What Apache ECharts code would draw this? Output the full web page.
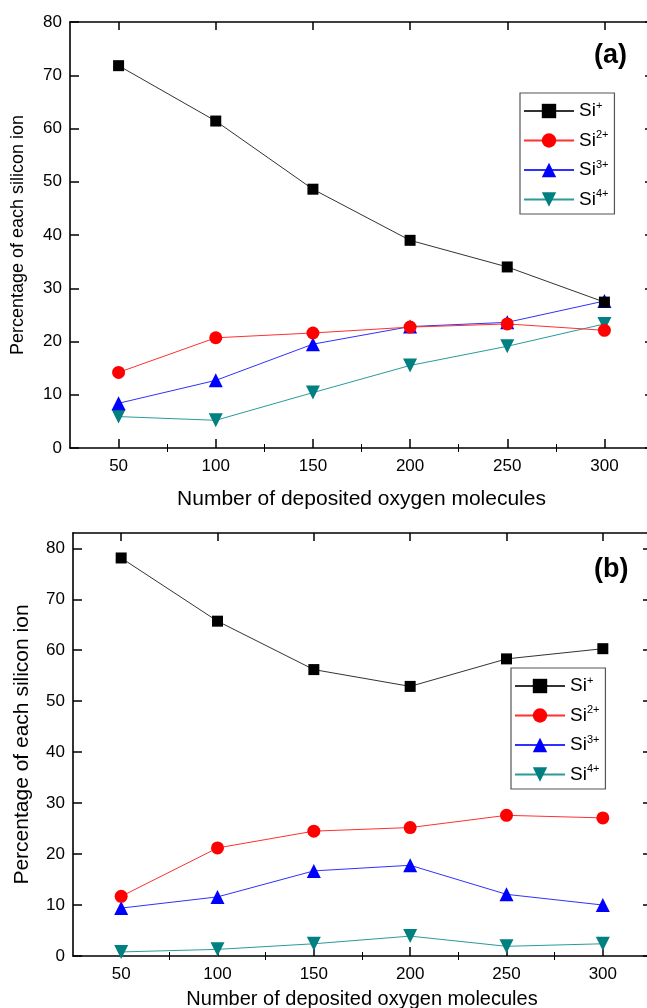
<!DOCTYPE html>
<html>
<head>
<meta charset="utf-8">
<script src="https://cdn.jsdelivr.net/npm/echarts@6/dist/echarts.min.js"></script>
<style>
  html, body { margin: 0; padding: 0; background: #fff; }
  #chart { width: 647px; height: 1008px; }
</style>
</head>
<body>
<div id="chart"></div>
<script>
// number of deposited O2 molecules
const oxygenCount = [50, 100, 150, 200, 250, 300];

// panel (a)
const siPlusA = [71.8, 61.4, 48.6, 39.0, 34.0, 27.4];
const si2PlusA = [14.2, 20.7, 21.6, 22.7, 23.3, 22.1];
const si3PlusA = [8.4, 12.7, 19.5, 22.8, 23.6, 27.6];
const si4PlusA = [5.9, 5.2, 10.4, 15.5, 19.1, 23.3];

// panel (b)
const siPlusB = [78.1, 65.7, 56.2, 52.9, 58.3, 60.3];
const si2PlusB = [11.7, 21.2, 24.5, 25.2, 27.6, 27.1];
const si3PlusB = [9.4, 11.6, 16.7, 17.8, 12.1, 10.0];
const si4PlusB = [0.8, 1.3, 2.4, 3.9, 1.9, 2.4];

const majorX = [50, 100, 150, 200, 250, 300];
const minorX = [75, 125, 175, 225, 275];
const yTicks = [0, 10, 20, 30, 40, 50, 60, 70, 80];
const ionNames = ['Si+', 'Si2+', 'Si3+', 'Si4+'];

const colors = ['#000000', '#ff0000', '#0000ff', '#008080'];
const lineColors = ['#333333', '#ff3030', '#3030ff', '#2a9a9a'];
const symbols = ['rect', 'circle', 'triangle', 'path://M0,0 L10,0 L5,9 Z'];
const symbolSizes = [11, 13, 14, 14];

const chart = echarts.init(document.getElementById('chart'));

function pairs(ys) {
  return oxygenCount.map((x, i) => [x, ys[i]]);
}

const axisLine = { show: true, onZero: false, lineStyle: { color: '#000', width: 1.6 } };

function xAxes(grid, nameGap, nameSize) {
  return [
    {
      type: 'value', gridIndex: grid, position: 'bottom', min: 25, max: 325,
      axisLine: axisLine,
      axisTick: { inside: true, length: 9, customValues: majorX, lineStyle: { color: '#000', width: 1.5 } },
      axisLabel: { customValues: majorX, fontSize: 17, color: '#000', margin: 10, fontFamily: 'Liberation Sans' },
      splitLine: { show: false },
      name: 'Number of deposited oxygen molecules', nameLocation: 'middle', nameGap: nameGap,
      nameTextStyle: { fontSize: nameSize, color: '#000', fontFamily: 'Liberation Sans' }
    },
    {
      type: 'value', gridIndex: grid, position: 'bottom', min: 25, max: 325,
      axisLine: { show: false },
      axisTick: { inside: true, length: 4, customValues: minorX, lineStyle: { color: '#000', width: 1 } },
      axisLabel: { show: false }, splitLine: { show: false }
    },
    {
      type: 'value', gridIndex: grid, position: 'top', min: 25, max: 325,
      axisLine: axisLine,
      axisTick: { inside: true, length: 8, customValues: majorX, lineStyle: { color: '#000', width: 1.5 } },
      axisLabel: { show: false }, splitLine: { show: false }
    },
    {
      type: 'value', gridIndex: grid, position: 'top', min: 25, max: 325,
      axisLine: { show: false },
      axisTick: { inside: true, length: 4, customValues: minorX, lineStyle: { color: '#000', width: 1 } },
      axisLabel: { show: false }, splitLine: { show: false }
    }
  ];
}

function yAxes(grid, max, nameGap, nameSize) {
  return [
    {
      type: 'value', gridIndex: grid, position: 'left', min: 0, max: max,
      axisLine: axisLine,
      axisTick: { inside: true, length: 9, customValues: yTicks, lineStyle: { color: '#000', width: 1.5 } },
      axisLabel: { customValues: yTicks, fontSize: 17, color: '#000', margin: 8, fontFamily: 'Liberation Sans' },
      splitLine: { show: false },
      name: 'Percentage of each silicon ion', nameLocation: 'middle', nameGap: nameGap,
      nameTextStyle: { fontSize: nameSize, color: '#000', fontFamily: 'Liberation Sans' }
    },
    {
      type: 'value', gridIndex: grid, position: 'right', min: 0, max: max,
      axisLine: axisLine,
      axisTick: { inside: true, length: 8, customValues: yTicks, lineStyle: { color: '#000', width: 1.5 } },
      axisLabel: { show: false }, splitLine: { show: false }
    }
  ];
}

function panelSeries(values, xIdx, yIdx) {
  return values.map((ys, k) => ({
    name: ionNames[k],
    type: 'line',
    xAxisIndex: xIdx,
    yAxisIndex: yIdx,
    data: pairs(ys),
    symbol: symbols[k],
    symbolSize: symbolSizes[k],
    itemStyle: { color: colors[k] },
    lineStyle: { color: lineColors[k], width: 1 },
    z: 10 - k
  }));
}

function legendFor(left, top) {
  return {
    orient: 'vertical', left: left, top: top,
    data: ionNames,
    itemWidth: 50, itemHeight: 18, itemGap: 9,
    padding: [7, 6, 5, 3],
    borderColor: '#555', borderWidth: 1.2,
    selectedMode: false,
    formatter: name => '{b|Si}{s|' + name.slice(2) + '}',
    textStyle: {
      rich: {
        b: { fontSize: 19, lineHeight: 22, color: '#000', fontFamily: 'Liberation Sans' },
        s: { fontSize: 11, lineHeight: 13, verticalAlign: 'top', color: '#000', fontFamily: 'Liberation Sans' }
      }
    }
  };
}

const option = {
  animation: false,
  backgroundColor: '#fff',
  grid: [
    { left: 70, top: 22, width: 583, height: 426, outerBoundsMode: 'none' },
    { left: 73, top: 533, width: 578, height: 423, outerBoundsMode: 'none' }
  ],
  xAxis: [].concat(xAxes(0, 41, 21), xAxes(1, 33, 20)),
  yAxis: [].concat(yAxes(0, 80, 43, 18), yAxes(1, 83, 40, 21)),
  legend: [legendFor(520, 93), legendFor(511, 668)],
  graphic: [
    { type: 'text', left: 594, top: 42, style: { text: '(a)', font: 'bold 27px Liberation Sans', fill: '#000' } },
    { type: 'text', left: 594, top: 556, style: { text: '(b)', font: 'bold 27px Liberation Sans', fill: '#000' } }
  ],
  series: [].concat(
    panelSeries([siPlusA, si2PlusA, si3PlusA, si4PlusA], 0, 0),
    panelSeries([siPlusB, si2PlusB, si3PlusB, si4PlusB], 4, 2)
  )
};

chart.setOption(option);
</script>
</body>
</html>
